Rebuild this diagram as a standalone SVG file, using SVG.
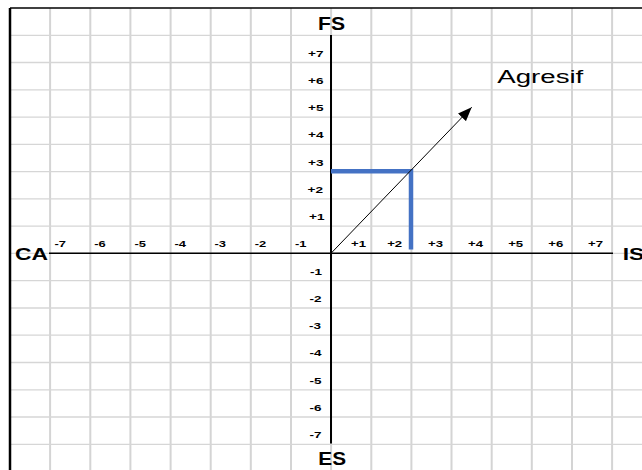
<svg xmlns="http://www.w3.org/2000/svg" width="642" height="470" viewBox="0 0 642 470">
<style>
.gv{stroke:#d4d4d4;stroke-width:2;fill:none}
.gh{stroke:#d6d6d6;stroke-width:1.3;fill:none}
.ax{stroke:#000;fill:none}
.tk{font-family:"Liberation Sans",Arial,sans-serif;font-weight:bold;font-size:8.5px;fill:#000}
.big{font-family:"Liberation Sans",Arial,sans-serif;font-weight:bold;fill:#000}
.lbl{font-family:"Liberation Sans",Arial,sans-serif;font-size:18px;fill:#000}
</style>
<defs>
<marker id="arr" viewBox="0 0 14 11" refX="14" refY="5.5" markerWidth="14" markerHeight="11" markerUnits="userSpaceOnUse" orient="auto">
<path d="M0,0 L14,5.5 L0,11 z" fill="#000"/>
</marker>
</defs>
<rect x="0" y="0" width="642" height="470" fill="#fff"/>
<g id="grid">
<path class="gv" d="M50.1,8V470M90.3,8V470M130.4,8V470M170.6,8V470M210.7,8V470M250.8,8V470M291,8V470M331.1,8V470M371.3,8V470M411.4,8V470M451.5,8V470M491.7,8V470M531.8,8V470M572,8V470M612.1,8V470"/>
<path class="gh" d="M10,35.3H642M10,62.5H642M10,89.8H642M10,117.1H642M10,144.4H642M10,171.6H642M10,198.9H642M10,226.2H642M10,253.4H642M10,280.7H642M10,308H642M10,335.2H642M10,362.5H642M10,389.8H642M10,417H642M10,444.3H642"/>
</g>
<g id="frame">
<path class="ax" stroke-width="1.5" d="M10,8H642"/>
<path class="ax" stroke-width="2.5" d="M10,8V470"/>
</g>
<g id="axes">
<path class="ax" stroke-width="2" d="M331,35V443.5"/>
<path class="ax" stroke-width="1.5" d="M49,253.3H613"/>
</g>
<g id="axis-labels">
<text class="big" x="318" y="30" font-size="18" textLength="27" lengthAdjust="spacingAndGlyphs">FS</text>
<text class="big" x="318.3" y="465" font-size="18" textLength="27.7" lengthAdjust="spacingAndGlyphs">ES</text>
<text class="big" x="15" y="260" font-size="16.5" textLength="33" lengthAdjust="spacingAndGlyphs">CA</text>
<text class="big" x="622.7" y="260" font-size="16.5" textLength="21.5" lengthAdjust="spacingAndGlyphs">IS</text>
</g>
<g id="x-ticks">
<text class="tk" x="54.5" y="247" textLength="11.5" lengthAdjust="spacingAndGlyphs">-7</text>
<text class="tk" x="94.3" y="247" textLength="11.5" lengthAdjust="spacingAndGlyphs">-6</text>
<text class="tk" x="134.4" y="247" textLength="11.5" lengthAdjust="spacingAndGlyphs">-5</text>
<text class="tk" x="174.4" y="247" textLength="11.5" lengthAdjust="spacingAndGlyphs">-4</text>
<text class="tk" x="214.5" y="247" textLength="11.5" lengthAdjust="spacingAndGlyphs">-3</text>
<text class="tk" x="254.8" y="247" textLength="11.5" lengthAdjust="spacingAndGlyphs">-2</text>
<text class="tk" x="295" y="247" textLength="11.5" lengthAdjust="spacingAndGlyphs">-1</text>
<text class="tk" x="351" y="247" textLength="15" lengthAdjust="spacingAndGlyphs">+1</text>
<text class="tk" x="387.2" y="247" textLength="15" lengthAdjust="spacingAndGlyphs">+2</text>
<text class="tk" x="428" y="247" textLength="15" lengthAdjust="spacingAndGlyphs">+3</text>
<text class="tk" x="468" y="247" textLength="15" lengthAdjust="spacingAndGlyphs">+4</text>
<text class="tk" x="508.2" y="247" textLength="15" lengthAdjust="spacingAndGlyphs">+5</text>
<text class="tk" x="548.3" y="247" textLength="15" lengthAdjust="spacingAndGlyphs">+6</text>
<text class="tk" x="588" y="247" textLength="15" lengthAdjust="spacingAndGlyphs">+7</text>
</g>
<g id="y-ticks">
<text class="tk" x="308" y="56.5" textLength="15.5" lengthAdjust="spacingAndGlyphs">+7</text>
<text class="tk" x="308" y="83.8" textLength="15.5" lengthAdjust="spacingAndGlyphs">+6</text>
<text class="tk" x="308" y="111" textLength="15.5" lengthAdjust="spacingAndGlyphs">+5</text>
<text class="tk" x="308" y="138.3" textLength="15.5" lengthAdjust="spacingAndGlyphs">+4</text>
<text class="tk" x="308" y="165.6" textLength="15.5" lengthAdjust="spacingAndGlyphs">+3</text>
<text class="tk" x="307.5" y="192.8" textLength="15.5" lengthAdjust="spacingAndGlyphs">+2</text>
<text class="tk" x="309" y="220" textLength="15.5" lengthAdjust="spacingAndGlyphs">+1</text>
<text class="tk" x="310" y="274.6" textLength="12" lengthAdjust="spacingAndGlyphs">-1</text>
<text class="tk" x="309.5" y="301.9" textLength="12" lengthAdjust="spacingAndGlyphs">-2</text>
<text class="tk" x="309" y="329" textLength="12" lengthAdjust="spacingAndGlyphs">-3</text>
<text class="tk" x="309.5" y="356.3" textLength="12" lengthAdjust="spacingAndGlyphs">-4</text>
<text class="tk" x="309.5" y="383.6" textLength="12" lengthAdjust="spacingAndGlyphs">-5</text>
<text class="tk" x="309.5" y="410.8" textLength="12" lengthAdjust="spacingAndGlyphs">-6</text>
<text class="tk" x="309.5" y="438" textLength="12" lengthAdjust="spacingAndGlyphs">-7</text>
</g>
<g id="position">
<path d="M331,171.3H411V249.5" fill="none" stroke="#4472C4" stroke-width="4.5" stroke-linejoin="miter"/>
</g>
<g id="connectors">
<path d="M331,253.3L471.7,107.3" fill="none" stroke="#000" stroke-width="1" marker-end="url(#arr)"/>
</g>
<g id="agresif">
<text class="lbl" x="497.3" y="83.3" textLength="86" lengthAdjust="spacingAndGlyphs">Agresif</text>
</g>
</svg>
